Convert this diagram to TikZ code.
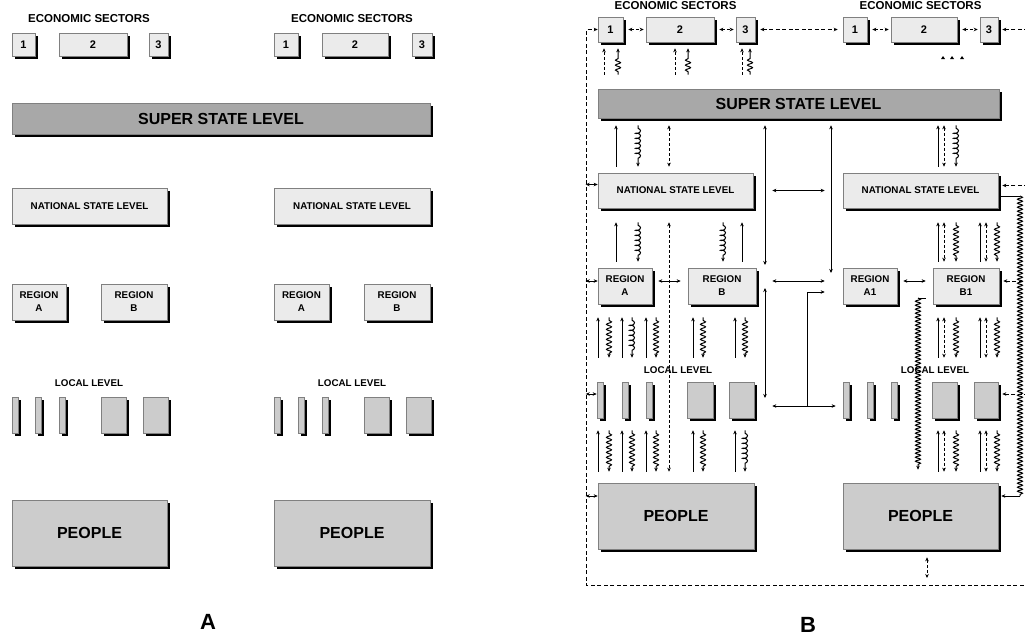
\documentclass[tikz,border=0pt]{standalone}
\usepackage{fontspec}
\setmainfont{Liberation Sans}
\usetikzlibrary{arrows.meta,shadows,decorations.pathmorphing}

\definecolor{boxlight}{gray}{0.92}
\definecolor{boxmid}{gray}{0.80}
\definecolor{boxdark}{gray}{0.66}
\definecolor{boxedge}{gray}{0.50}

\tikzset{
  lbox/.style={draw=boxedge, line width=0.6pt, fill=boxlight, inner sep=0pt, align=center,
    drop shadow={shadow xshift=3pt, shadow yshift=-2.5pt, fill=black, opacity=1},
    font=\bfseries\fontsize{9.8}{13}\selectfont},
  sz/.style 2 args={minimum width=#1, minimum height=#2},
  numbox/.style={lbox, font=\bfseries\fontsize{11}{13}\selectfont},
  midbox/.style={lbox, fill=boxmid},
  bigbox/.style={lbox, fill=boxmid, font=\bfseries\fontsize{16}{18}\selectfont},
  superbox/.style={lbox, fill=boxdark, font=\bfseries\fontsize{16}{18}\selectfont},
  sectitle/.style={font=\bfseries\fontsize{11.5}{13}\selectfont},
  lvl/.style={font=\bfseries\fontsize{9.8}{12}\selectfont},
  panel/.style={font=\bfseries\fontsize{22}{24}\selectfont},
  ar/.style={-{Stealth[length=4pt,width=3.5pt]}, line width=1pt},
  dar/.style={{Stealth[length=4pt,width=3.5pt]}-{Stealth[length=4pt,width=3.5pt]}, line width=1pt},
  dsh/.style={dash pattern=on 3pt off 2pt},
  lsh/.style={dash pattern=on 4pt off 2.5pt},
  wav/.style={decorate, decoration={snake, amplitude=2.5pt, segment length=5pt, pre length=3pt, post length=4pt}},
  coi/.style={decorate, decoration={coil, aspect=0.5, amplitude=2.5pt, segment length=5pt, pre length=3pt, post length=4pt}},
}

\begin{document}
\begin{tikzpicture}[x=1pt, y=-1pt]
\useasboundingbox (0,0) rectangle (1025,637);

% panel A
\node[sectitle] (aet1) at (89,18.5) {ECONOMIC SECTORS};
\node[sectitle] (aet2) at (352,18.5) {ECONOMIC SECTORS};
\node[numbox, sz={23pt}{23pt}] (a11) at (23.5,44.5) {1};
\node[numbox, sz={68pt}{23pt}] (a12) at (93,44.5) {2};
\node[numbox, sz={19pt}{23pt}] (a13) at (158.5,44.5) {3};
\node[numbox, sz={24pt}{23pt}] (a21) at (286,44.5) {1};
\node[numbox, sz={66pt}{23pt}] (a22) at (355,44.5) {2};
\node[numbox, sz={20pt}{23pt}] (a23) at (422,44.5) {3};
\node[superbox, sz={418pt}{31pt}] (ass) at (221,118.5) {SUPER STATE LEVEL};
\node[lbox, sz={155pt}{36pt}] (anl) at (89.5,206) {NATIONAL STATE LEVEL};
\node[lbox, sz={156pt}{36pt}] (anr) at (352,206) {NATIONAL STATE LEVEL};
\node[lbox, sz={54pt}{36pt}] (ara) at (39,302) {REGION\\A};
\node[lbox, sz={66pt}{36pt}] (arb) at (134,302) {REGION\\B};
\node[lbox, sz={55pt}{36pt}] (ara2) at (301.5,302) {REGION\\A};
\node[lbox, sz={66pt}{36pt}] (arb2) at (397,302) {REGION\\B};
\node[lvl] (all1) at (89,383) {LOCAL LEVEL};
\node[lvl] (all2) at (352,383) {LOCAL LEVEL};
\foreach \x [count=\i] in {15,38,62,277,301,325}
  \node[midbox, sz={6pt}{36pt}] (alt\i) at (\x,415) {};
\foreach \x [count=\i] in {113.5,155.5,376.5,418.5}
  \node[midbox, sz={25pt}{36pt}] (alb\i) at (\x,415) {};
\node[bigbox, sz={155pt}{66pt}] (apl) at (89.5,533) {PEOPLE};
\node[bigbox, sz={156pt}{66pt}] (apr) at (352,533) {PEOPLE};
\node[panel] (pa) at (208,622) {A};

% panel B
\node[sectitle, anchor=base] (bet1) at (675.5,9.5) {ECONOMIC SECTORS};
\node[sectitle, anchor=base] (bet2) at (920.5,9.5) {ECONOMIC SECTORS};
\node[numbox, sz={25pt}{25pt}] (b1) at (610.5,29.5) {1};
\node[numbox, sz={68pt}{25pt}] (b2) at (680,29.5) {2};
\node[numbox, sz={19pt}{25pt}] (b3) at (745.5,29.5) {3};
\node[numbox, sz={24pt}{25pt}] (r1) at (855,29.5) {1};
\node[numbox, sz={66pt}{25pt}] (r2) at (924,29.5) {2};
\node[numbox, sz={18pt}{25pt}] (r3) at (989,29.5) {3};
\node[superbox, sz={401pt}{29pt}] (ss) at (798.5,103.5) {SUPER STATE LEVEL};
\node[lbox, sz={155pt}{35pt}] (nl) at (675.5,190.5) {NATIONAL STATE LEVEL};
\node[lbox, sz={155pt}{35pt}] (nr) at (920.5,190.5) {NATIONAL STATE LEVEL};
\node[lbox, sz={54pt}{36pt}] (ra) at (625,286) {REGION\\A};
\node[lbox, sz={68pt}{36pt}] (rb) at (722,286) {REGION\\B};
\node[lbox, sz={54pt}{36pt}] (ra1) at (870,286) {REGION\\A1};
\node[lbox, sz={66pt}{36pt}] (rb1) at (966,286) {REGION\\B1};
\node[lvl] (ll1) at (678,370) {LOCAL LEVEL};
\node[lvl] (ll2) at (935,370) {LOCAL LEVEL};
\node[midbox, sz={6pt}{36pt}] (lt1) at (600,400) {};
\node[midbox, sz={6pt}{36pt}] (lt2) at (625,400) {};
\node[midbox, sz={6pt}{36pt}] (lt3) at (649,400) {};
\node[midbox, sz={26pt}{36pt}] (lb4) at (700,400) {};
\node[midbox, sz={25pt}{36pt}] (lb5) at (741.5,400) {};
\node[midbox, sz={6pt}{36pt}] (rt1) at (846,400) {};
\node[midbox, sz={6pt}{36pt}] (rt2) at (870,400) {};
\node[midbox, sz={6pt}{36pt}] (rt3) at (894,400) {};
\node[midbox, sz={25pt}{36pt}] (rb4) at (944.5,400) {};
\node[midbox, sz={24pt}{36pt}] (rb5) at (986,400) {};
\node[bigbox, sz={156pt}{66pt}] (pl) at (676,516) {PEOPLE};
\node[bigbox, sz={155pt}{66pt}] (pr) at (920.5,516) {PEOPLE};
\node[panel] (pb) at (808,625) {B};

% sectors
\draw[dar, dsh, shorten <=5pt, shorten >=2pt] (b1) -- (b2);
\draw[dar, dsh, shorten <=5pt, shorten >=2pt] (b2) -- (b3);
\draw[dar, lsh, shorten <=5pt, shorten >=5pt] (b3) -- (r1);
\draw[dar, dsh, shorten <=5pt, shorten >=2pt] (r1) -- (r2);
\draw[dar, dsh, shorten <=5pt, shorten >=2pt] (r2) -- (r3);
\draw[ar, lsh] ([xshift=30pt]r3.east) -- ([xshift=4pt]r3.east);
\foreach \x/\n in {604/b1, 675/b2, 742/b3}
  \draw[ar, dsh] ([yshift=14pt]ss.north -| \x,0) -- ([yshift=-6pt]\n.south -| \x,0);
\foreach \x/\n in {618/b1, 688/b2, 750/b3}
  \draw[ar, wav, decoration={amplitude=2.5pt, post length=8pt}] ([yshift=14pt]ss.north -| \x,0) -- ([yshift=-6pt]\n.south -| \x,0);
\foreach \x in {943,952,962}
  \fill (\x,56) -- ++(2,3) -- ++(-4,0) -- cycle;

% super state and national
\draw[ar] ([yshift=6pt]nl.north -| 616,0) -- ([yshift=-7pt]ss.south -| 616,0);
\draw[ar, coi] ([yshift=-7pt]ss.south -| 638,0) -- ([yshift=6pt]nl.north -| 638,0);
\draw[dar, dsh] ([yshift=-7pt]ss.south -| 669,0) -- ([yshift=6pt]nl.north -| 669,0);
\draw[ar] ([yshift=6pt]nr.north -| 938,0) -- ([yshift=-7pt]ss.south -| 938,0);
\draw[dar, dsh] ([yshift=-7pt]ss.south -| 944,0) -- ([yshift=6pt]nr.north -| 944,0);
\draw[ar, coi] ([yshift=-7pt]ss.south -| 956,0) -- ([yshift=6pt]nr.north -| 956,0);

% national and regions
\draw[ar] ([yshift=6pt]ra.north -| 616,0) -- ([yshift=-14pt]nl.south -| 616,0);
\draw[ar, coi] ([yshift=-14pt]nl.south -| 638,0) -- ([yshift=6pt]ra.north -| 638,0);
\draw[dar, dsh] ([yshift=-14pt]nl.south -| 669,0) -- ([yshift=11pt]pl.north -| 669,0);
\draw[ar, coi] ([yshift=-14pt]nl.south -| 723,0) -- ([yshift=6pt]rb.north -| 723,0);
\draw[ar] ([yshift=6pt]rb.north -| 742,0) -- ([yshift=-14pt]nl.south -| 742,0);
\draw[dar, shorten <=6pt, shorten >=7pt] ([yshift=5pt]ra.east) -- ([yshift=5pt]rb.west);
\foreach \x/\y/\z in {938/944/956, 980/986/997} {
  \draw[ar] ([yshift=6pt]rb1.north -| \x,0) -- ([yshift=-14pt]nr.south -| \x,0);
  \draw[dar, dsh] ([yshift=-14pt]nr.south -| \y,0) -- ([yshift=6pt]rb1.north -| \y,0);
  \draw[ar, wav] ([yshift=-14pt]nr.south -| \z,0) -- ([yshift=6pt]rb1.north -| \z,0);
}
\draw[dar, shorten <=6pt, shorten >=7pt] ([yshift=5pt]ra1.east) -- ([yshift=5pt]rb1.west);

% regions, local level and people
\foreach \x/\y/\n/\m in {598/609/ra/lt1, 646/656/ra/lt3, 693/703/rb/lb4, 735/745/rb/lb5} {
  \draw[ar] ([yshift=24pt]\m.north -| \x,0) -- ([yshift=-13pt]\n.south -| \x,0);
  \draw[ar, wav] ([yshift=-13pt]\n.south -| \y,0) -- ([yshift=24pt]\m.north -| \y,0);
}
\draw[ar] ([yshift=24pt]lt2.north -| 622,0) -- ([yshift=-13pt]ra.south -| 622,0);
\draw[ar, coi] ([yshift=-13pt]ra.south -| 632,0) -- ([yshift=24pt]lt2.north -| 632,0);
\foreach \x/\y/\m in {598/609/lt1, 622/632/lt2, 646/656/lt3, 693/703/lb4} {
  \draw[ar] ([yshift=11pt]pl.north -| \x,0) -- ([yshift=-12pt]\m.south -| \x,0);
  \draw[ar, wav] ([yshift=-12pt]\m.south -| \y,0) -- ([yshift=11pt]pl.north -| \y,0);
}
\draw[ar] ([yshift=11pt]pl.north -| 735,0) -- ([yshift=-12pt]lb5.south -| 735,0);
\draw[ar, coi] ([yshift=-12pt]lb5.south -| 745,0) -- ([yshift=11pt]pl.north -| 745,0);
\foreach \x/\y/\z/\m in {938/944/956/rb4, 980/986/997/rb5} {
  \draw[ar] ([yshift=24pt]\m.north -| \x,0) -- ([yshift=-13pt]rb1.south -| \x,0);
  \draw[dar, dsh] ([yshift=-13pt]rb1.south -| \y,0) -- ([yshift=24pt]\m.north -| \y,0);
  \draw[ar, wav] ([yshift=-13pt]rb1.south -| \z,0) -- ([yshift=24pt]\m.north -| \z,0);
  \draw[ar] ([yshift=11pt]pr.north -| \x,0) -- ([yshift=-12pt]\m.south -| \x,0);
  \draw[dar, dsh] ([yshift=-12pt]\m.south -| \y,0) -- ([yshift=11pt]pr.north -| \y,0);
  \draw[ar, wav] ([yshift=-12pt]\m.south -| \z,0) -- ([yshift=11pt]pr.north -| \z,0);
}

% links between the two states
\coordinate (va) at (765,265);
\coordinate (vb) at (765,288);
\coordinate (vc) at (831,273);
\coordinate (tj) at (807,406);
\draw[dar] ([yshift=-7pt]ss.south -| va) -- (va);
\draw[dar] (vb) -- ([yshift=2pt]lb5.east -| vb);
\draw[dar] ([yshift=-7pt]ss.south -| vc) -- (vc);
\draw[dar, shorten <=19pt, shorten >=18pt] (nl) -- (nr);
\draw[dar, shorten <=16pt, shorten >=18pt] ([yshift=5pt]rb.east) -- ([yshift=5pt]ra1.west);
\draw[ar, shorten >=18pt] (tj) |- ([yshift=-6pt]ra1.west);
\draw[dar, shorten <=18pt, shorten >=7pt] ([yshift=-6pt]lb5.east) -- ([yshift=-6pt]rt1.west);

% outer loop
\coordinate (lpl) at (586,585);
\coordinate (lpr) at (1030,585);
\draw[ar, lsh] (lpr) -- (lpl) |- (b1.west);
\draw[dar] ([xshift=-12pt,yshift=6pt]nl.west) -- ([yshift=6pt]nl.west);
\draw[dar] ([xshift=-12pt,yshift=5pt]ra.west) -- ([yshift=5pt]ra.west);
\draw[dar] ([xshift=-11pt,yshift=6pt]lt1.west) -- ([yshift=6pt]lt1.west);
\draw[dar] ([xshift=-12pt,yshift=20pt]pl.west) -- ([yshift=20pt]pl.west);
\draw[dar, dsh] ([yshift=-8pt]pr.south -| 927,0) -- ([yshift=7pt]lpl -| 927,0);
\draw[ar, lsh] ([xshift=30pt,yshift=5pt]nr.east) -- ([xshift=4pt,yshift=5pt]nr.east);
\draw[ar, lsh] ([xshift=30pt,yshift=5pt]rb1.east) -- ([xshift=4pt,yshift=5pt]rb1.east);
\draw[ar, lsh] ([xshift=30pt,yshift=6pt]rb5.east) -- ([xshift=4pt,yshift=6pt]rb5.east);

% long wavy links
\coordinate (wt) at (1020,196);
\coordinate (wb) at (1020,496);
\coordinate (wm) at (918,298);
\draw[line width=1pt] ([xshift=3pt,yshift=-5.5pt]nr.east) -- (wt);
\draw[line width=1pt, wav, decoration={amplitude=2.5pt, segment length=4pt, pre length=0pt, post length=0pt}] (wt) -- (wb);
\draw[ar, shorten >=3pt] (wb) -- ([yshift=20pt]pr.east);
\draw[line width=1pt] (wm) -- ([xshift=-7pt,yshift=-12pt]rb1.west);
\draw[ar, wav, decoration={amplitude=2.5pt, segment length=4pt, pre length=0pt}] (wm) -- ([yshift=13pt]pr.north -| wm);
\end{tikzpicture}
\end{document}
